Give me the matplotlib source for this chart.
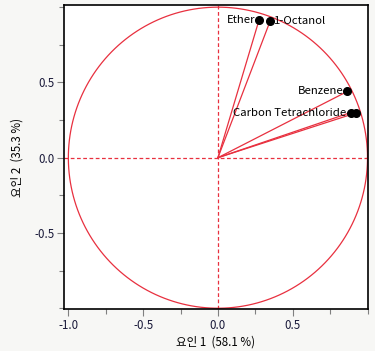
import numpy as np
import matplotlib
matplotlib.use('Agg')
import matplotlib.pyplot as plt

plt.rcParams['font.family'] = ['Noto Sans CJK KR', 'DejaVu Sans']
plt.rcParams['axes.unicode_minus'] = False

# loadings
names = ['Ether', '1-Octanol', 'Benzene', 'Carbon Tetrachloride', '']
factor1 = [0.275, 0.35, 0.865, 0.887, 0.922]
factor2 = [0.915, 0.91, 0.44, 0.30, 0.297]
label_side = ['left', 'right', 'left', 'left', 'left']
xticks = [-1.0, -0.5, 0.0, 0.5]
yticks = [-0.5, 0.0, 0.5]

red = '#e8303f'
fig = plt.figure(figsize=(3.75, 3.51), dpi=100, facecolor='#f7f7f5')
ax = fig.add_axes([0.1715, 0.1197, 0.8085, 0.8655])
ax.set_facecolor('white')

t = np.linspace(0, 2 * np.pi, 400)
ax.plot(np.cos(t), np.sin(t), color=red, lw=0.9, zorder=2)
ax.axhline(0, color=red, lw=0.9, ls=(0, (3, 2)), zorder=1)
ax.axvline(0, color=red, lw=0.9, ls=(0, (3, 2)), zorder=1)

for x, y, n, side in zip(factor1, factor2, names, label_side):
    ax.plot([0, x], [0, y], color=red, lw=0.9, zorder=2)
    ax.plot(x, y, 'o', color='black', ms=5.5, zorder=4)
    if n:
        if side == 'left':
            ax.annotate(n, (x, y), xytext=(-3, 0), textcoords='offset points',
                        ha='right', va='center', fontsize=8.2, color='black', zorder=3)
        else:
            ax.annotate(n, (x, y), xytext=(3, 0), textcoords='offset points',
                        ha='left', va='center', fontsize=8.2, color='black', zorder=3)

ax.set_xlim(-1.027, 1.0)
ax.set_ylim(-1.005, 1.013)
ax.set_xticks(xticks)
ax.set_yticks(yticks)
ax.set_xticks(np.arange(-1.0, 1.01, 0.25), minor=True)
ax.set_yticks(np.arange(-1.0, 1.01, 0.25), minor=True)
ax.tick_params(which='major', length=5, width=0.8, color='#808080', labelsize=8.3,
               labelcolor='#1a1a3a', pad=2)
ax.tick_params(which='minor', length=3.5, width=0.8, color='#808080')
for s in ax.spines.values():
    s.set_linewidth(1.2)
    s.set_color('black')

ax.set_xlabel('요인 1  (58.1 %)', fontsize=8.3, labelpad=3)
ax.set_ylabel('요인 2  (35.3 %)', fontsize=8.3, labelpad=8)

fig.savefig('out.png', dpi=100, facecolor=fig.get_facecolor())
